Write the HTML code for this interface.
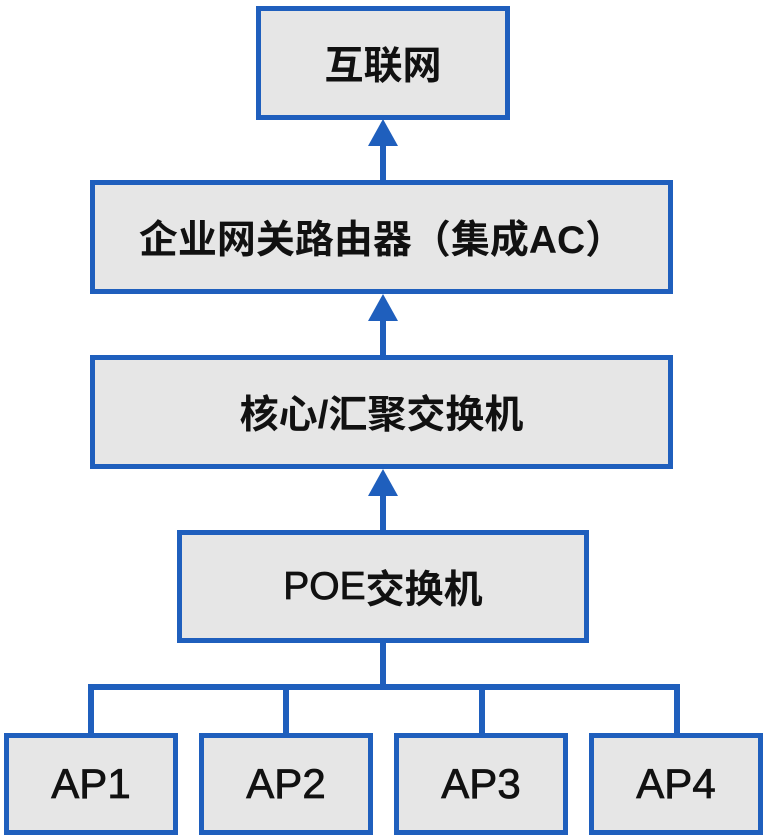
<!DOCTYPE html>
<html><head><meta charset="utf-8"><style>
body{margin:0;width:766px;height:836px;background:#fff;position:relative;overflow:hidden;font-family:"Liberation Sans","Noto Sans CJK SC",sans-serif;}
.b{position:absolute;box-sizing:border-box;border:5px solid #1f5fbd;background:#e6e6e6;display:flex;align-items:center;justify-content:center;color:#111;font-size:39px;font-weight:bold;}
.ap{font-size:42px;font-weight:normal;-webkit-text-stroke:0.8px #111;}
.l{position:absolute;background:#1f5fbd;}
.t{position:absolute;width:0;height:0;border-left:15px solid transparent;border-right:15px solid transparent;border-bottom:27px solid #1f5fbd;}
</style></head><body>
<div class="b" style="left:256px;top:6px;width:254px;height:114px;">互联网</div>
<div class="b" style="left:90px;top:180px;width:583px;height:114px;">企业网关路由器（集成AC）</div>
<div class="b" style="left:90px;top:355px;width:583px;height:114px;">核心/汇聚交换机</div>
<div class="b" style="left:177px;top:530px;width:412px;height:113px;"><span style="font-weight:normal;-webkit-text-stroke:0.8px #111;">POE</span>交换机</div>
<div class="l" style="left:380px;top:140px;width:6px;height:42px;"></div>
<div class="t" style="left:368px;top:119px;"></div>
<div class="l" style="left:380px;top:315px;width:6px;height:42px;"></div>
<div class="t" style="left:368px;top:294px;"></div>
<div class="l" style="left:380px;top:490px;width:6px;height:42px;"></div>
<div class="t" style="left:368px;top:469px;"></div>
<div class="l" style="left:380px;top:642px;width:6px;height:48px;"></div>
<div class="l" style="left:88px;top:684px;width:592px;height:6px;"></div>
<div class="l" style="left:88px;top:684px;width:6px;height:52px;"></div>
<div class="l" style="left:283px;top:684px;width:6px;height:52px;"></div>
<div class="l" style="left:479px;top:684px;width:6px;height:52px;"></div>
<div class="l" style="left:674px;top:684px;width:6px;height:52px;"></div>
<div class="b ap" style="left:4px;top:733px;width:174px;height:102px;">AP1</div>
<div class="b ap" style="left:199px;top:733px;width:174px;height:102px;">AP2</div>
<div class="b ap" style="left:394px;top:733px;width:174px;height:102px;">AP3</div>
<div class="b ap" style="left:589px;top:733px;width:174px;height:102px;">AP4</div>
</body></html>
